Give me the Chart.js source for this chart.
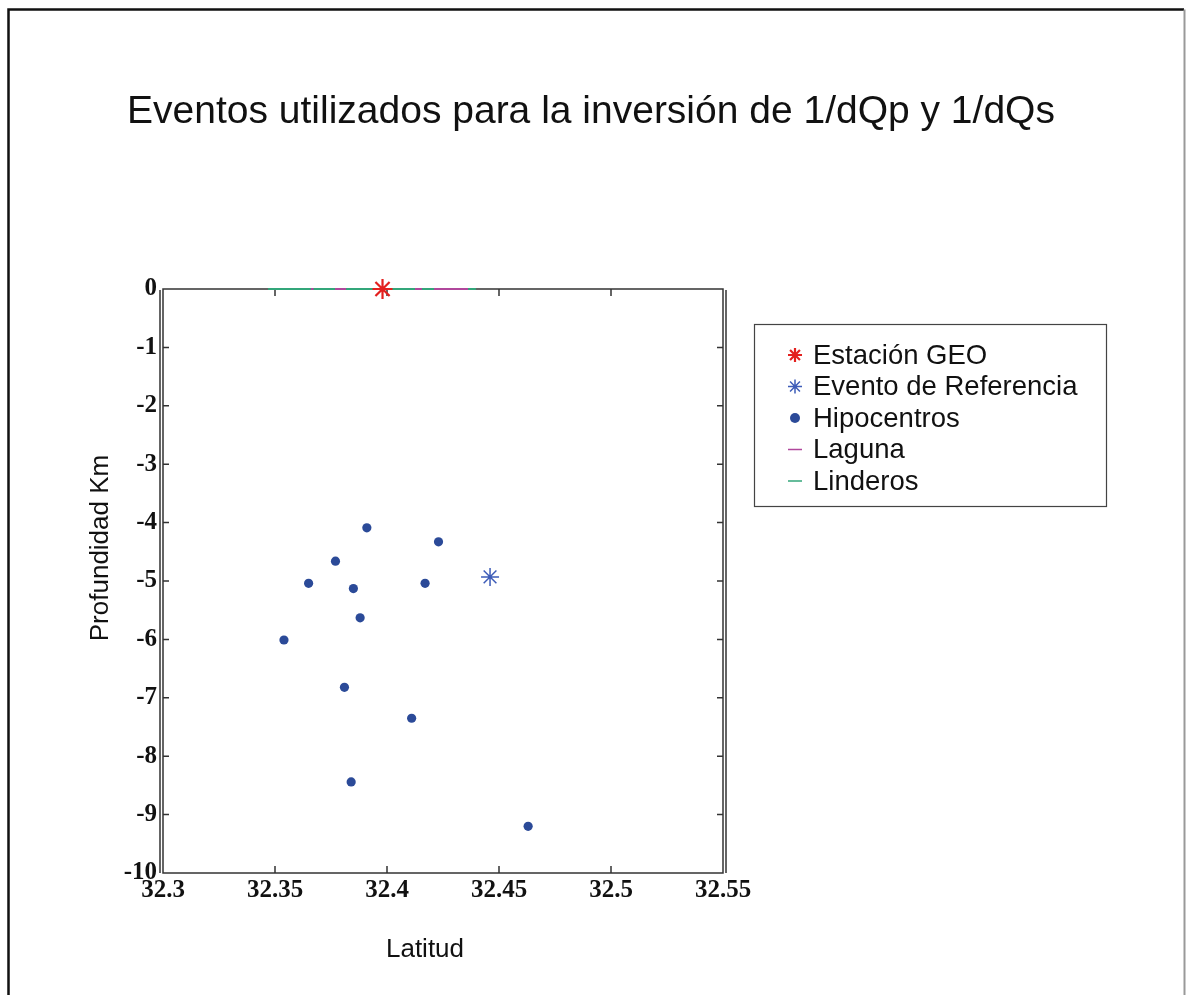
<!DOCTYPE html>
<html>
<head>
<meta charset="utf-8">
<script src="https://cdn.jsdelivr.net/npm/chart.js@4/dist/chart.umd.min.js"></script>
<style>
html,body{margin:0;padding:0;background:#fff;}
#wrap{width:1186px;height:995px;position:relative;}
</style>
</head>
<body>
<div id="wrap"><canvas id="c" width="1186" height="995"></canvas></div>
<script>
// ---- data ----
const titleText = 'Eventos utilizados para la inversión de 1/dQp y 1/dQs';
const xTitle = 'Latitud';
const yTitle = 'Profundidad Km';
const xTicks = [32.3, 32.35, 32.4, 32.45, 32.5, 32.55];
const xTickLabels = ['32.3', '32.35', '32.4', '32.45', '32.5', '32.55'];
const yTicks = [0, -1, -2, -3, -4, -5, -6, -7, -8, -9, -10];
const yTickLabels = ['0', '-1', '-2', '-3', '-4', '-5', '-6', '-7', '-8', '-9', '-10'];

const estacionLat = [32.398];
const estacionDepth = [0];
const referenciaLat = [32.446];
const referenciaDepth = [-4.93];
const hipoLat = [32.391, 32.423, 32.377, 32.365, 32.385, 32.417, 32.388, 32.354, 32.381, 32.411, 32.384, 32.463];
const hipoDepth = [-4.09, -4.33, -4.66, -5.04, -5.13, -5.04, -5.63, -6.01, -6.82, -7.35, -8.44, -9.20];
const lagunaLat = [32.3660, 32.3672, null, 32.3768, 32.3817, null, 32.4125, 32.4156, null, 32.4210, 32.4362];
const lagunaDepth = [0, 0, null, 0, 0, null, 0, 0, null, 0, 0];
const linderosLat = [32.3469, 32.4397];
const linderosDepth = [0, 0];

const labels = ['Estación GEO', 'Evento de Referencia', 'Hipocentros', 'Laguna', 'Linderos'];
const colors = ['#e3201e', '#3d5cb8', '#2b4a98', '#b0479c', '#33a67a'];

const pts = (xs, ys) => xs.map((x, i) => (x === null ? {x: NaN, y: null} : {x: x, y: ys[i]}));

const AXIS = '#333333';

const framePlugin = {
  id: 'frame',
  beforeDraw(chart) {
    const ctx = chart.ctx;
    ctx.save();
    ctx.fillStyle = '#fff';
    ctx.fillRect(0, 0, chart.width, chart.height);
    // outer picture frame
    ctx.strokeStyle = '#111';
    ctx.lineWidth = 2.5;
    ctx.beginPath();
    ctx.moveTo(8.5, 995); ctx.lineTo(8.5, 9.5); ctx.lineTo(1184, 9.5);
    ctx.stroke();
    ctx.strokeStyle = '#999';
    ctx.lineWidth = 2;
    ctx.beginPath();
    ctx.moveTo(1184.5, 9.5); ctx.lineTo(1184.5, 995);
    ctx.stroke();
    ctx.restore();
  },
  beforeDatasetsDraw(chart) {
    const ctx = chart.ctx;
    const a = chart.chartArea;
    const xs = chart.scales.x, ys = chart.scales.y;
    ctx.save();
    ctx.strokeStyle = AXIS;
    ctx.lineWidth = 1.5;
    ctx.strokeRect(a.left, a.top, a.right - a.left, a.bottom - a.top);
    ctx.beginPath();
    ctx.moveTo(a.left - 3, a.top + 1); ctx.lineTo(a.left - 3, a.bottom);
    ctx.moveTo(a.right + 3, a.top + 1); ctx.lineTo(a.right + 3, a.bottom);
    ctx.stroke();
    // inward ticks
    ctx.beginPath();
    xs.ticks.forEach(t => {
      const px = xs.getPixelForValue(t.value);
      if (px <= a.left + 2 || px >= a.right - 2) return;
      ctx.moveTo(px, a.bottom); ctx.lineTo(px, a.bottom - 7);
      ctx.moveTo(px, a.top); ctx.lineTo(px, a.top + 7);
    });
    ys.ticks.forEach(t => {
      const py = ys.getPixelForValue(t.value);
      if (py <= a.top + 2 || py >= a.bottom - 2) return;
      ctx.moveTo(a.left, py); ctx.lineTo(a.left + 6, py);
      ctx.moveTo(a.right, py); ctx.lineTo(a.right - 6, py);
    });
    ctx.stroke();
    ctx.restore();
  },
  afterDraw(chart) {
    const ctx = chart.ctx;
    ctx.save();
    ctx.fillStyle = '#111';
    ctx.textAlign = 'center';
    ctx.textBaseline = 'middle';
    ctx.font = '39px "Liberation Sans", Arial, sans-serif';
    ctx.fillText(titleText, 591, 112);
    ctx.font = '26px "Liberation Sans", Arial, sans-serif';
    ctx.fillText(xTitle, 425, 950);
    ctx.translate(101, 548);
    ctx.rotate(-Math.PI / 2);
    ctx.fillText(yTitle, 0, 0);
    ctx.restore();

    // legend box
    const ds = chart.data.datasets;
    const bx = 754.5, by = 324.5, bw = 352, bh = 182;
    ctx.save();
    ctx.fillStyle = '#fff';
    ctx.fillRect(bx, by, bw, bh);
    ctx.strokeStyle = '#444';
    ctx.lineWidth = 1.2;
    ctx.strokeRect(bx, by, bw, bh);
    ctx.font = '27.5px "Liberation Sans", Arial, sans-serif';
    ctx.textAlign = 'left';
    ctx.textBaseline = 'middle';
    const rowY = [355, 386.5, 418, 449.5, 481];
    ds.forEach((d, i) => {
      const y = rowY[i];
      const mx = 795;
      if (d.showLine) {
        ctx.strokeStyle = d.borderColor;
        ctx.lineWidth = 1.5;
        ctx.beginPath();
        ctx.moveTo(mx - 7, y); ctx.lineTo(mx + 7, y);
        ctx.stroke();
      } else {
        ctx.fillStyle = d.backgroundColor;
        ctx.strokeStyle = d.borderColor;
        ctx.lineWidth = d.borderWidth;
        ctx.beginPath();
        if (d.pointStyle === 'circle') {
          ctx.arc(mx, y, 5, 0, Math.PI * 2);
          ctx.fill();
        } else {
          for (let k = 0; k < 4; k++) {
            const ang = k * Math.PI / 4;
            ctx.moveTo(mx - 7 * Math.cos(ang), y - 7 * Math.sin(ang));
            ctx.lineTo(mx + 7 * Math.cos(ang), y + 7 * Math.sin(ang));
          }
          ctx.stroke();
        }
      }
      ctx.fillStyle = '#111';
      ctx.fillText(d.label, 813, y + 1);
    });
    ctx.restore();
  }
};

new Chart(document.getElementById('c'), {
  type: 'scatter',
  data: {
    datasets: [
      {label: labels[0], data: pts(estacionLat, estacionDepth), pointStyle: 'star', radius: 10, borderWidth: 2.2, borderColor: colors[0], backgroundColor: colors[0], clip: false},
      {label: labels[1], data: pts(referenciaLat, referenciaDepth), pointStyle: 'star', radius: 9, borderWidth: 1.5, borderColor: colors[1], backgroundColor: colors[1], clip: false},
      {label: labels[2], data: pts(hipoLat, hipoDepth), pointStyle: 'circle', radius: 4.6, borderWidth: 0, borderColor: colors[2], backgroundColor: colors[2], clip: false},
      {label: labels[3], data: pts(lagunaLat, lagunaDepth), showLine: true, spanGaps: false, pointRadius: 0, borderWidth: 2, borderColor: colors[3], backgroundColor: colors[3], clip: false},
      {label: labels[4], data: pts(linderosLat, linderosDepth), showLine: true, pointRadius: 0, borderWidth: 2, borderColor: colors[4], backgroundColor: colors[4], clip: false}
    ]
  },
  options: {
    responsive: false,
    animation: false,
    events: [],
    layout: {padding: {left: 10, right: 463, top: 289, bottom: 62}},
    plugins: {
      legend: {display: false},
      tooltip: {enabled: false},
      title: {display: false}
    },
    scales: {
      x: {
        type: 'linear',
        min: 32.3, max: 32.55,
        grid: {display: false, drawTicks: false},
        border: {display: false},
        afterFit(s) { s.height = 60; },
        afterBuildTicks(s) { s.ticks = xTicks.map(v => ({value: v})); },
        ticks: {
          padding: 3,
          color: '#111',
          maxRotation: 0,
          autoSkip: false,
          font: {family: '"Liberation Serif", "Times New Roman", serif', size: 25, weight: 'bold'},
          callback: (v, i) => xTickLabels[i]
        }
      },
      y: {
        type: 'linear',
        min: -10, max: 0,
        grid: {display: false, drawTicks: false},
        border: {display: false},
        afterFit(s) { s.width = 153; },
        afterBuildTicks(s) { s.ticks = yTicks.map(v => ({value: v})); },
        ticks: {
          padding: 6,
          color: '#111',
          autoSkip: false,
          font: {family: '"Liberation Serif", "Times New Roman", serif', size: 25, weight: 'bold'},
          callback: (v, i) => yTickLabels[i]
        }
      }
    }
  },
  plugins: [framePlugin]
});
</script>
</body>
</html>
